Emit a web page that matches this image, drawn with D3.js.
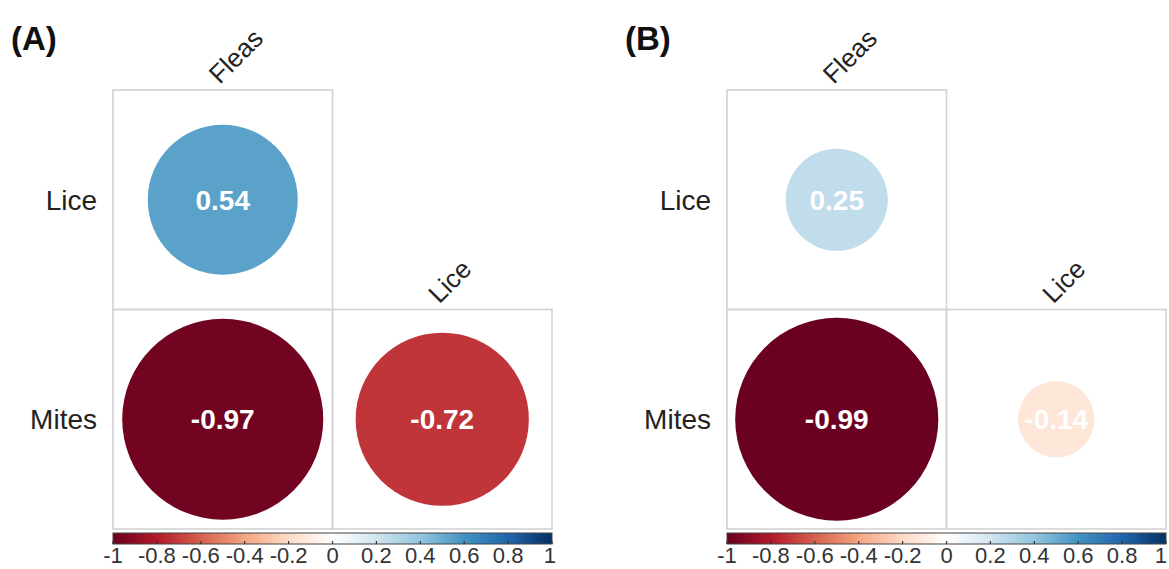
<!DOCTYPE html>
<html>
<head>
<meta charset="utf-8">
<script src="https://cdn.jsdelivr.net/npm/d3@7"></script>
<style>
  body { margin: 0; background: #fff; }
  svg { display: block; font-family: "Liberation Sans", Arial, sans-serif; }
</style>
</head>
<body>
<div id="chart"></div>
<script>
// correlation matrix labels (lower triangle)
const rowNames = ["Lice", "Mites"];
const colNames = ["Fleas", "Lice"];

// panel A / B correlation values, null = not shown
const corrA = [[0.54, null], [-0.97, -0.72]];
const corrB = [[0.25, null], [-0.99, -0.14]];

// colour legend
const legendTicks = [-1, -0.8, -0.6, -0.4, -0.2, 0, 0.2, 0.4, 0.6, 0.8, 1];
const paletteStops = ["#67001F", "#B2182B", "#D6604D", "#F4A582", "#FDDBC7", "#FFFFFF",
                      "#D1E5F0", "#92C5DE", "#4393C3", "#2166AC", "#053061"];

const width = 1169, height = 569;
const svg = d3.select("#chart").append("svg")
    .attr("width", width)
    .attr("height", height);

const color = d3.scaleLinear()
    .domain(d3.range(paletteStops.length).map(i => -1 + i * 2 / (paletteStops.length - 1)))
    .range(paletteStops)
    .interpolate(d3.interpolateRgb);

// shared gradient for the legend bar
const grad = svg.append("defs").append("linearGradient")
    .attr("id", "corrGrad")
    .attr("x1", "0%").attr("x2", "100%");
grad.selectAll("stop")
    .data(d3.range(0, 101))
    .join("stop")
    .attr("offset", d => d + "%")
    .attr("stop-color", d => color(-1 + d / 50));

function drawPanel(x0, label, corr) {
    const top = 90, cell = 219.5;
    const g = svg.append("g");

    const x = d3.scaleBand().domain(colNames).range([x0, x0 + cell * colNames.length]);
    const y = d3.scaleBand().domain(rowNames).range([top, top + cell * rowNames.length]);
    const rScale = d3.scaleSqrt().domain([0, 1]).range([0, cell * 0.465]);

    g.append("text")
        .attr("x", x0 - 102)
        .attr("y", 50)
        .attr("font-size", 33)
        .attr("font-weight", "bold")
        .attr("fill", "#111")
        .text(label);

    const cells = [];
    rowNames.forEach((r, i) => colNames.forEach((c, j) => {
        if (corr[i][j] !== null) cells.push({row: r, col: c, v: corr[i][j]});
    }));

    g.selectAll("rect.cell")
        .data(cells)
        .join("rect")
        .attr("class", "cell")
        .attr("x", d => x(d.col))
        .attr("y", d => y(d.row))
        .attr("width", x.bandwidth())
        .attr("height", y.bandwidth())
        .attr("fill", "none")
        .attr("stroke", "#d2d2d2")
        .attr("stroke-width", 1.6);

    g.selectAll("circle.corr")
        .data(cells)
        .join("circle")
        .attr("class", "corr")
        .attr("cx", d => x(d.col) + x.bandwidth() / 2)
        .attr("cy", d => y(d.row) + y.bandwidth() / 2)
        .attr("r", d => rScale(Math.abs(d.v)))
        .attr("fill", d => color(d.v));

    g.selectAll("text.val")
        .data(cells)
        .join("text")
        .attr("class", "val")
        .attr("x", d => x(d.col) + x.bandwidth() / 2)
        .attr("y", d => y(d.row) + y.bandwidth() / 2 + 10)
        .attr("text-anchor", "middle")
        .attr("font-size", 28)
        .attr("font-weight", "bold")
        .attr("fill", "#fff")
        .text(d => d.v.toFixed(2));

    // row labels
    g.selectAll("text.row")
        .data(rowNames)
        .join("text")
        .attr("class", "row")
        .attr("x", x0 - 16)
        .attr("y", d => y(d) + y.bandwidth() / 2 + 10)
        .attr("text-anchor", "end")
        .attr("font-size", 28)
        .attr("fill", "#222")
        .text(d => d);

    // column labels sit on top of the first shown cell of each column
    g.selectAll("text.col")
        .data(colNames)
        .join("text")
        .attr("class", "col")
        .attr("transform", (d, j) => {
            const firstRow = rowNames.find((r, i) => corr[i][j] !== null);
            return `translate(${x(d) + x.bandwidth() / 2 - 3},${y(firstRow) - 5}) rotate(-45)`;
        })
        .attr("font-size", 26)
        .attr("fill", "#222")
        .text(d => d);

    // colour legend
    const lx = d3.scaleLinear().domain([-1, 1]).range([x0, x0 + cell * 2]);
    const barY = 533, barH = 11;
    g.append("rect")
        .attr("x", lx(-1))
        .attr("y", barY)
        .attr("width", lx(1) - lx(-1))
        .attr("height", barH)
        .attr("fill", "url(#corrGrad)")
        .attr("stroke", "#444")
        .attr("stroke-width", 1);

    g.selectAll("line.tick")
        .data(legendTicks)
        .join("line")
        .attr("class", "tick")
        .attr("x1", d => lx(d)).attr("x2", d => lx(d))
        .attr("y1", barY + barH - 3).attr("y2", barY + barH)
        .attr("stroke", "#333")
        .attr("stroke-width", 1.2);

    g.selectAll("text.tick")
        .data(legendTicks)
        .join("text")
        .attr("class", "tick")
        .attr("x", d => d === 1 ? Math.min(lx(d) + 4, width - 2) : lx(d))
        .attr("y", 563)
        .attr("text-anchor", d => d === 1 ? "end" : "middle")
        .attr("font-size", 22)
        .attr("fill", "#333")
        .text(d => String(d));
}

drawPanel(113, "(A)", corrA);
drawPanel(727, "(B)", corrB);
</script>
</body>
</html>
